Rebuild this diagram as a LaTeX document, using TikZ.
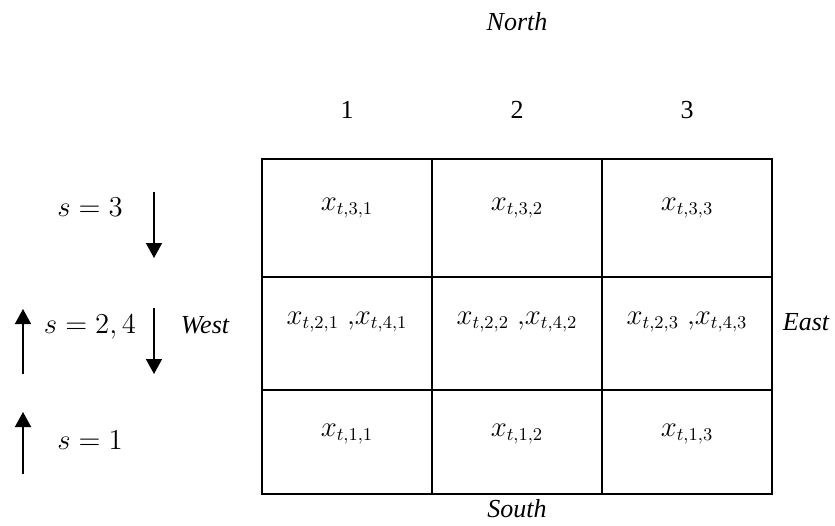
\documentclass[tikz,border=0pt]{standalone}
\usepackage{fontspec}
\setmainfont{Liberation Serif}
\usepackage{amsmath}
\usetikzlibrary{arrows.meta, positioning}

\begin{document}
\begin{tikzpicture}[x=0.5pt, y=-0.5pt,
  grid/.style={draw, line width=0.75pt},
  val/.style={font=\fontsize{13.5}{16}\selectfont},
  num/.style={font=\fontsize{13}{15}\selectfont},
  side/.style={font=\fontsize{13}{15}\selectfont\itshape},
  flow/.style={-{Triangle[length=7.5pt,width=8pt]}, line width=0.75pt},
]
  \useasboundingbox (0,0) rectangle (835,525);

  % grid of cells
  \draw[grid] (262,159) rectangle (772,494);
  \draw[grid] (432,159) -- (432,494) (602,159) -- (602,494);
  \draw[grid] (262,277) -- (772,277) (262,390) -- (772,390);

  % compass labels
  \node[side] (north) at (517,22)  {North};
  \node[side] (south) at (517,509) {South};
  \node[side] (west)  at (205,325) {West};
  \node[side] (east)  at (806,322) {East};

  % column numbers
  \node[num] (col1) at (347,110) {1};
  \node[num] (col2) at (517,110) {2};
  \node[num] (col3) at (687,110) {3};

  % cell values
  \node[val] (c31) at (347,208) {$x_{t,3,1}$};
  \node[val] (c32) at (517,208) {$x_{t,3,2}$};
  \node[val] (c33) at (687,208) {$x_{t,3,3}$};
  \node[val] (c21) at (347,322) {$x_{t,2,1}\;{,}x_{t,4,1}$};
  \node[val] (c22) at (517,322) {$x_{t,2,2}\;{,}x_{t,4,2}$};
  \node[val] (c23) at (687,322) {$x_{t,2,3}\;{,}x_{t,4,3}$};
  \node[val] (c11) at (347,434) {$x_{t,1,1}$};
  \node[val] (c12) at (517,434) {$x_{t,1,2}$};
  \node[val] (c13) at (687,434) {$x_{t,1,3}$};

  % stages
  \node[val] (s3)  at (90,207) {$s=3$};
  \node[val] (s24) at (90,327) {$s=2,4$};
  \node[val] (s1)  at (90,440) {$s=1$};

  \coordinate (d3a) at (154,192);  \coordinate (d3b) at (154,258);
  \coordinate (d2a) at (154,308);  \coordinate (d2b) at (154,374);
  \coordinate (u2a) at (23,374);   \coordinate (u2b) at (23,309);
  \coordinate (u1a) at (23,474);   \coordinate (u1b) at (23,412);

  \draw[flow] (d3a) -- (d3b);
  \draw[flow] (d2a) -- (d2b);
  \draw[flow] (u2a) -- (u2b);
  \draw[flow] (u1a) -- (u1b);
\end{tikzpicture}
\end{document}
